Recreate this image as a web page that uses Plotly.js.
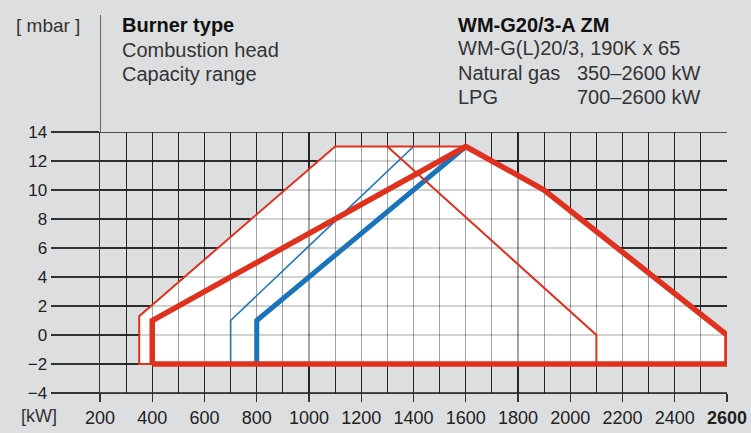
<!DOCTYPE html>
<html>
<head>
<meta charset="utf-8">
<script src="https://cdn.plot.ly/plotly-3.0.1.min.js"></script>
<style>
  html, body { margin: 0; padding: 0; background: #dddee0; }
  #chart { width: 751px; height: 433px; }
</style>
</head>
<body>
<div id="chart"></div>
<script>
// ---- data ----
// Combined capacity envelope (white area)
const envelopeX = [350, 350, 1100, 1600, 1900, 2600, 2600, 350];
const envelopeY = [-2, 1.3, 13, 13, 10, 0, -2, -2];

// Natural gas working field (thick red)
const naturalGasX = [400, 400, 1600, 1900, 2600, 2600, 400];
const naturalGasY = [-2, 1, 13, 10, 0, -2, -2];

// LPG working field (thin red)
const lpgX = [2100, 350, 350, 1100, 1600, null, 1300, 2100, 2100];
const lpgY = [-2, -2, 1.3, 13, 13, null, 13, 0, -2];

// Blue lines
const blueThinX = [700, 700, 1400];
const blueThinY = [-2, 1, 13];
const blueThickX = [800, 800, 1600];
const blueThickY = [-2, 1, 13];

// Axis ticks
const xTickVals = [200, 400, 600, 800, 1000, 1200, 1400, 1600, 1800, 2000, 2200, 2400, 2600];
const xTickText = ['200', '400', '600', '800', '1000', '1200', '1400', '1600', '1800', '2000', '2200', '2400', '<b>2600</b>'];
const yTickVals = [-4, -2, 0, 2, 4, 6, 8, 10, 12, 14];

// Header texts
const leftHeader = ['Burner type', 'Combustion head', 'Capacity range'];
const rightHeader = ['WM-G20/3-A ZM', 'WM-G(L)20/3, 190K x 65', 'Natural gas', 'LPG'];
const rightValues = ['350–2600 kW', '700–2600 kW'];

// ---- layout geometry (integer margins, 29 px per grid row) ----
const W = 751, H = 433;
const mL = 100, mR = 24, mT = 132, mB = 40;
const pw = W - mL - mR, ph = H - mT - mB;
const px = v => (v - mL) / pw;
const py = v => (H - mB - v) / ph;

const RED = '#e0301e';
const BLUE = '#1a74bb';
const FONT = 'Liberation Sans, Arial, sans-serif';

const X_RANGE = [xTickVals[0], xTickVals[xTickVals.length - 1]];
const Y_RANGE = [yTickVals[0], yTickVals[yTickVals.length - 1]];

const darkGrid = '#383838';
const overGrid = 'rgba(0,0,0,0.36)';

// horizontal grid lines as one path (one segment per y tick)
const hGridX = [], hGridY = [];
yTickVals.forEach(v => { hGridX.push(X_RANGE[0], X_RANGE[1], null); hGridY.push(v, v, null); });

const traces = [
  {x: hGridX, y: hGridY, type: 'scatter', mode: 'lines', connectgaps: false,
   line: {color: darkGrid, width: 1.3}, xaxis: 'x', yaxis: 'y', hoverinfo: 'skip'},
  {x: envelopeX, y: envelopeY, type: 'scatter', mode: 'lines', fill: 'toself',
   fillcolor: '#ffffff', line: {width: 0}, xaxis: 'x', yaxis: 'y', hoverinfo: 'skip'},
  {x: hGridX, y: hGridY, type: 'scatter', mode: 'lines', connectgaps: false,
   line: {color: overGrid, width: 1.2}, xaxis: 'x2', yaxis: 'y2', hoverinfo: 'skip'},
  {x: blueThinX, y: blueThinY, type: 'scatter', mode: 'lines',
   line: {color: BLUE, width: 1.6}, xaxis: 'x2', yaxis: 'y2'},
  {x: blueThickX, y: blueThickY, type: 'scatter', mode: 'lines',
   line: {color: BLUE, width: 5}, xaxis: 'x2', yaxis: 'y2'},
  {x: lpgX, y: lpgY, type: 'scatter', mode: 'lines', connectgaps: false,
   line: {color: RED, width: 2}, xaxis: 'x2', yaxis: 'y2'},
  {x: naturalGasX, y: naturalGasY, type: 'scatter', mode: 'lines',
   line: {color: RED, width: 5.5}, xaxis: 'x2', yaxis: 'y2'}
];

function gridAxis(anchor, range, dtick, color, show) {
  return {
    domain: [0, 1], range: range, anchor: anchor,
    tickmode: 'linear', tick0: 0, dtick: dtick,
    showticklabels: false, ticks: '',
    showgrid: show, gridcolor: color, gridwidth: 1.2,
    showline: false, zeroline: false, fixedrange: true
  };
}

const shapes = [
  {type: 'line', xref: 'x3', yref: 'paper', x0: X_RANGE[0], x1: X_RANGE[0], y0: 1, y1: py(15),
   line: {color: '#333', width: 1.4}}
];

const annotations = [];
function addText(text, x, yMid, size, bold, color) {
  annotations.push({
    text: bold ? '<b>' + text + '</b>' : text,
    xref: 'paper', yref: 'paper', x: px(x), y: py(yMid),
    xanchor: 'left', yanchor: 'middle', showarrow: false,
    font: {family: FONT, size: size, color: color}
  });
}
addText('[ mbar ]', 14, 25, 19, false, '#333');
addText(leftHeader[0], 120, 25, 20, true, '#111');
addText(leftHeader[1], 120, 49.5, 20, false, '#333');
addText(leftHeader[2], 120, 73.5, 20, false, '#333');
addText(rightHeader[0], 456, 25, 20, true, '#111');
addText(rightHeader[1], 456, 48.5, 20, false, '#333');
addText(rightHeader[2], 456, 72.5, 20, false, '#333');
addText(rightHeader[3], 456, 96.5, 20, false, '#333');
addText(rightValues[0], 575, 72.5, 20, false, '#333');
addText(rightValues[1], 575, 96.5, 20, false, '#333');
addText('[kW]', 19, 416, 18, false, '#333');

const layout = {
  width: W, height: H,
  margin: {l: mL, r: mR, t: mT, b: mB, pad: 0},
  paper_bgcolor: '#dddee0',
  plot_bgcolor: 'rgba(0,0,0,0)',
  showlegend: false,
  font: {family: FONT, color: '#222'},
  // subplot 1: dark grid + white capacity area
  xaxis: gridAxis('y', X_RANGE, 100, darkGrid, true),
  yaxis: gridAxis('x', Y_RANGE, 2, darkGrid, true),
  // subplot 2: translucent grid over the white area + curves
  xaxis2: gridAxis('y2', X_RANGE, 100, overGrid, true),
  yaxis2: gridAxis('x2', Y_RANGE, 2, overGrid, false),
  // subplot 3: ticks, labels and axis lines
  xaxis3: {
    domain: [0, 1], range: X_RANGE, anchor: 'y3',
    tickmode: 'array', tickvals: xTickVals, ticktext: xTickText,
    ticks: 'outside', ticklen: 8, tickwidth: 1.2, tickcolor: '#333',
    showgrid: false, showline: true, linecolor: '#333', linewidth: 1.2,
    zeroline: false, tickfont: {size: 18, color: '#222'}, fixedrange: true
  },
  yaxis3: {
    domain: [0, 1], range: Y_RANGE, anchor: 'x3',
    tickmode: 'array', tickvals: yTickVals,
    ticks: 'outside', ticklen: 48, tickwidth: 1.2, tickcolor: '#333',
    showgrid: false, showline: true, linecolor: '#333', linewidth: 1.4,
    zeroline: false, tickfont: {size: 17, color: '#222'}, fixedrange: true
  },
  shapes: shapes,
  annotations: annotations
};

Plotly.newPlot('chart', traces, layout, {staticPlot: true, displayModeBar: false});
</script>
</body>
</html>
